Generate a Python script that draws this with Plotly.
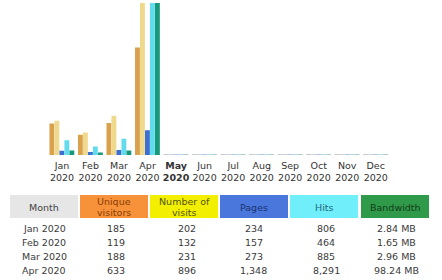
import plotly.graph_objects as go

months = ["Jan", "Feb", "Mar", "Apr", "May", "Jun", "Jul", "Aug", "Sep", "Oct", "Nov", "Dec"]
year = "2020"
current_month = "May"
visitors = [185, 119, 188, 633, 0, 0, 0, 0, 0, 0, 0, 0]
visits = [202, 132, 231, 896, 0, 0, 0, 0, 0, 0, 0, 0]
pages = [234, 157, 273, 1348, 0, 0, 0, 0, 0, 0, 0, 0]
hits = [806, 464, 885, 8291, 0, 0, 0, 0, 0, 0, 0, 0]
bandwidth_mb = [2.84, 1.65, 2.96, 98.24, 0, 0, 0, 0, 0, 0, 0, 0]
table_rows = 4

headers = ["Month", "Unique<br>visitors", "Number of<br>visits", "Pages", "Hits", "Bandwidth"]
header_fill = ["#e6e6e6", "#f7923a", "#f2ef00", "#4a77dc", "#70eefa", "#2f9a4a"]
header_font = ["#444444", "#8a3d05", "#555510", "#1c3372", "#236878", "#143d18"]

bar_colors = ["#d9a14c", "#eed98c", "#3d6ed2", "#62dbec", "#17987c"]
zero_colors = ["#b9b9b9", "#b9c8d8", "#9fb3e0", "#99d3e0", "#94bdb3"]

FONT = "DejaVu Sans"
W, H = 442, 280

ticktext = []
for m in months:
    if m == current_month:
        ticktext.append(f"<b>{m}<br>{year}</b>")
    else:
        ticktext.append(f"{m}<br>{year}")

fig = go.Figure()

series = [
    ("Unique visitors", visitors, "y"),
    ("Number of visits", visits, "y"),
    ("Pages", pages, "y2"),
    ("Hits", hits, "y2"),
    ("Bandwidth", bandwidth_mb, "y3"),
]

bw = 0.175
start = -0.44
for i, (name, vals, yax) in enumerate(series):
    lw = [1 if v == 0 else 0 for v in vals]
    fig.add_trace(go.Bar(
        x=list(range(len(months))), y=vals, name=name, yaxis=yax,
        width=bw * 0.97, offset=start + i * bw,
        marker=dict(color=bar_colors[i], line=dict(color=zero_colors[i], width=lw)),
        showlegend=False, hoverinfo="skip",
    ))

ydom = [125 / H, 277 / H]
fig.update_layout(
    width=W, height=H, margin=dict(l=0, r=0, t=0, b=0),
    paper_bgcolor="white", plot_bgcolor="white",
    barmode="overlay",
    font=dict(family=FONT, size=9.5, color="#333333"),
    xaxis=dict(domain=[47.75 / W, 390 / W], range=[-0.5, 11.5],
               tickmode="array", tickvals=list(range(len(months))), ticktext=ticktext,
               showgrid=False, zeroline=False, showline=False, ticks="",
               ticklabelstandoff=3,
               tickfont=dict(family=FONT, size=9.5, color="#333333")),
    yaxis=dict(domain=ydom, range=[0, max(visits)], visible=False),
    yaxis2=dict(domain=ydom, range=[0, max(hits)], overlaying="y", visible=False),
    yaxis3=dict(domain=ydom, range=[0, max(bandwidth_mb)], overlaying="y", visible=False),
)

# ---- summary table (header boxes + text) ----
col_x = [(10, 78), (80, 148), (150, 218), (220, 288), (290, 358), (361, 429)]
cell_cx = [44, 116, 187, 254, 326, 396]
head_top, head_bot = 195, 218
row_y0, row_dy = 228, 14
line_gap = 11

def px(x):
    return x / W

def py(y):
    return 1 - y / H

for j, (x0, x1) in enumerate(col_x):
    fig.add_shape(type="rect", xref="paper", yref="paper",
                  x0=px(x0), x1=px(x1), y0=py(head_bot), y1=py(head_top),
                  fillcolor=header_fill[j], line=dict(width=0), layer="below")
    lines = headers[j].split("<br>")
    mid = (head_top + head_bot) / 2 + 0.5
    first = mid - line_gap * (len(lines) - 1) / 2
    for k, ln in enumerate(lines):
        fig.add_annotation(xref="paper", yref="paper", x=px((x0 + x1) / 2),
                           y=py(first + k * line_gap),
                           text=ln, showarrow=False, xanchor="center", yanchor="middle",
                           font=dict(family=FONT, size=9.5, color=header_font[j]))

columns = [
    [f"{m} {year}" for m in months[:table_rows]],
    [f"{v:d}" for v in visitors[:table_rows]],
    [f"{v:d}" for v in visits[:table_rows]],
    [f"{v:,d}" for v in pages[:table_rows]],
    [f"{v:,d}" for v in hits[:table_rows]],
    [f"{v:.2f} MB" for v in bandwidth_mb[:table_rows]],
]
for j, col in enumerate(columns):
    for r, txt in enumerate(col):
        fig.add_annotation(xref="paper", yref="paper", x=px(cell_cx[j]),
                           y=py(row_y0 + r * row_dy),
                           text=txt, showarrow=False, xanchor="center", yanchor="middle",
                           font=dict(family=FONT, size=9.5, color="#3a3a3a"))

fig.write_html("out.html")
